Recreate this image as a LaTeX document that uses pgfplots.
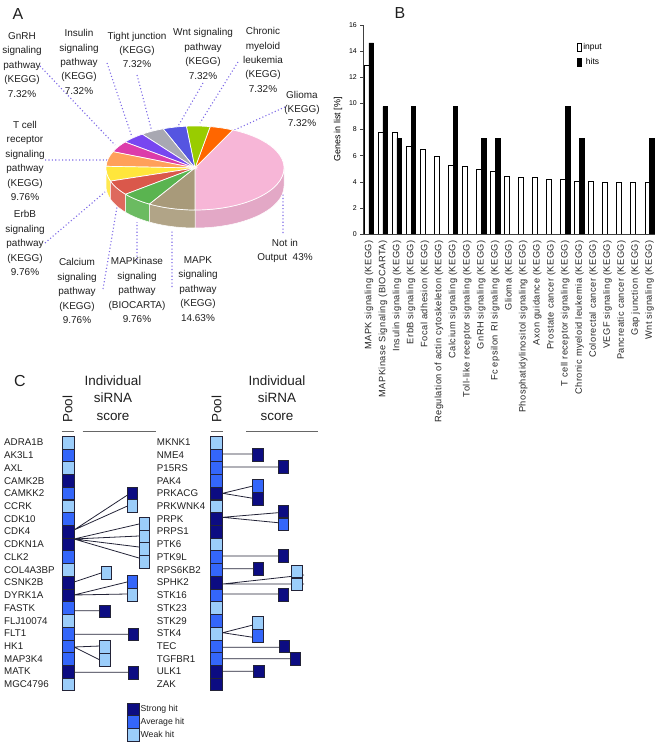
\documentclass[border=0pt]{standalone}
\usepackage{fontspec}
\setmainfont{Liberation Sans}
\newfontfamily\tickfont[LetterSpace=5]{Liberation Sans}
\usepackage{pgfplots}
\pgfplotsset{compat=1.18}

\definecolor{hitS}{RGB}{12,12,130}
\definecolor{hitA}{RGB}{52,102,250}
\definecolor{hitW}{RGB}{155,205,250}
\definecolor{boxline}{RGB}{35,35,55}
\definecolor{lead}{RGB}{125,105,230}
\definecolor{pPink}{RGB}{247,182,215}
\definecolor{pOrange}{RGB}{255,102,0}
\definecolor{pLime}{RGB}{153,204,0}
\definecolor{pBlue}{RGB}{85,85,225}
\definecolor{pGray}{RGB}{168,168,178}
\definecolor{pViolet}{RGB}{120,70,240}
\definecolor{pMagenta}{RGB}{220,60,170}
\definecolor{pPeach}{RGB}{255,160,90}
\definecolor{pYellow}{RGB}{255,230,60}
\definecolor{pRed}{RGB}{218,88,75}
\definecolor{pGreen}{RGB}{90,180,80}
\definecolor{pTan}{RGB}{168,154,122}

\pgfdeclareplotmark{poolbox}{\pgfpathrectangle{\pgfpoint{-6bp}{-6.36bp}}{\pgfpoint{12bp}{12.73bp}}\pgfusepathqfillstroke}
\pgfdeclareplotmark{hitbox}{\pgfpathrectangle{\pgfpoint{-5.2bp}{-6.36bp}}{\pgfpoint{10.4bp}{12.73bp}}\pgfusepathqfillstroke}
\pgfplotsset{boxlegend/.style={legend image code/.code={\draw[##1] (0bp,-3.8bp) rectangle (4bp,3.8bp);}}}

\begin{document}
\begin{tikzpicture}
% page frame in pixel units (y downwards)
\begin{axis}[name=main, x=1bp, y=1bp, y dir=reverse, xmin=0, xmax=660, ymin=0, ymax=744,
  hide axis, clip=false, at={(0,0)}, anchor=south west]
  \coordinate (TL) at (0,0);
  \coordinate (BR) at (660,744);
  \coordinate (Bsw) at (363.3,234);
  \coordinate (pc) at (195,168);
  % leader lines of the pie
  \addplot[lead, mark=none, line width=1.1bp, dash pattern=on 1.1bp off 2.3bp, unbounded coords=jump] coordinates {
    (40,66) (115,145) (0,nan)
    (107,63) (132,137) (0,nan)
    (137,75) (152,132) (0,nan)
    (203,83) (177,128) (0,nan)
    (238,62) (200,123) (0,nan)
    (285,107) (230,132) (0,nan)
    (45,160) (107,160) (0,nan)
    (45,243) (105,192) (0,nan)
    (103,289) (117,207) (0,nan)
    (137,260) (137,222) (0,nan)
    (172,287) (172,230) (0,nan)
    (283,233) (283,193)
  };
  % links pool -> individual siRNA
  \addplot[boxline, mark=none, line width=0.8bp, unbounded coords=jump] coordinates {
    (74,530) (127.5,495) (0,nan)
    (74,530) (127.5,506) (0,nan)
    (74,539) (139,524) (0,nan)
    (74,539) (139,536) (0,nan)
    (74,539) (139,547) (0,nan)
    (74,539) (139,558) (0,nan)
    (74,582) (101,573) (0,nan)
    (74,595) (127,582) (0,nan)
    (74,595) (127,594) (0,nan)
    (74,610.7) (100,610.7) (0,nan)
    (74,634.3) (128,634.3) (0,nan)
    (74,647) (100,646) (0,nan)
    (74,647) (100,660) (0,nan)
    (74,672.3) (128,672.3) (0,nan)
    (222.7,454) (253,454) (0,nan)
    (222.7,467) (278,467) (0,nan)
    (222.7,493.3) (253,486) (0,nan)
    (222.7,493.3) (253,498.3) (0,nan)
    (222.7,517.3) (278,512.7) (0,nan)
    (222.7,517.3) (278,522.7) (0,nan)
    (222.7,556) (278,556) (0,nan)
    (222.7,568.7) (253,568.7) (0,nan)
    (222.7,584) (304,575) (0,nan)
    (222.7,584) (304,584) (0,nan)
    (222.7,594) (278,594) (0,nan)
    (222.7,632.7) (253,625) (0,nan)
    (222.7,632.7) (253,637.3) (0,nan)
    (222.7,647.3) (279,647.3) (0,nan)
    (222.7,658.7) (290,658.7) (0,nan)
    (222.7,671.3) (254,671.3)
  };
  % pool scores
  \addplot[only marks, mark=poolbox, mark options={fill=hitS, draw=boxline, line width=0.6bp}] coordinates {
    (67.8,480.7) (67.8,531.6) (67.8,544.3) (67.8,582.5) (67.8,595.3) (67.8,671.6)
    (216.7,493.4) (216.7,518.9) (216.7,531.6) (216.7,582.5) (216.7,671.6) (216.7,684.4)
    (133,709.3)};
  \addplot[only marks, mark=poolbox, mark options={fill=hitA, draw=boxline, line width=0.6bp}] coordinates {
    (67.8,455.2) (67.8,493.4) (67.8,518.9) (67.8,557.1) (67.8,608.0) (67.8,633.5) (67.8,646.2) (67.8,658.9)
    (216.7,455.2) (216.7,468.0) (216.7,480.7) (216.7,557.1) (216.7,569.8) (216.7,595.3) (216.7,620.7) (216.7,646.2) (216.7,658.9)
    (133,722.0)};
  \addplot[only marks, mark=poolbox, mark options={fill=hitW, draw=boxline, line width=0.6bp}] coordinates {
    (67.8,442.5) (67.8,468.0) (67.8,506.2) (67.8,569.8) (67.8,620.7) (67.8,684.4)
    (216.7,442.5) (216.7,506.2) (216.7,544.3) (216.7,608.0) (216.7,633.5)
    (133,734.7)};
  % individual siRNA scores
  \addplot[only marks, mark=hitbox, mark options={fill=hitS, draw=boxline, line width=0.6bp}] coordinates {
    (132.5,493.5) (104.7,611.3) (133.3,634.2) (133.3,672.7)
    (257.7,454.5) (283,467) (257.7,498.7) (283,511.3) (283,555.5) (258.3,568.5)
    (283,594.5) (284.2,646.3) (295.3,658.7) (258.7,671.3)};
  \addplot[only marks, mark=hitbox, mark options={fill=hitA, draw=boxline, line width=0.6bp}] coordinates {
    (132,582) (257.7,485.7) (283,524.2) (257.7,635.8)};
  \addplot[only marks, mark=hitbox, mark options={fill=hitW, draw=boxline, line width=0.6bp}] coordinates {
    (132.5,506) (144,523.5) (144,536.3) (144,549) (144,561.7) (106,573) (132,594.5)
    (104.7,646.7) (104.7,659.6) (296.7,571.3) (296.7,584.2) (257.7,623)};
\end{axis}

% panel B: bar chart
\begin{axis}[at={(Bsw)}, anchor=south west, x=14.03bp, y=13.06bp,
  xmin=0.6, xmax=21.4, ymin=0, ymax=16, enlargelimits=false,
  axis lines=left, axis line style={-, line width=0.6bp, black!75},
  ytick={0,2,...,16}, xtick={1,...,21},
  xticklabels={MAPK signaling (KEGG), MAPKinase Signaling (BIOCARTA), Insulin signaling (KEGG),
    ErbB signaling (KEGG), Focal adhesion (KEGG), Regulation of actin cytoskeleton (KEGG),
    Calcium signaling (KEGG), Toll-like receptor signaling (KEGG), GnRH signaling (KEGG),
    Fc epsilon RI signaling (KEGG), Glioma (KEGG), Phosphatidylinositol signaling (KEGG),
    Axon guidance (KEGG), Prostate cancer (KEGG), T cell receptor signaling (KEGG),
    Chronic myeloid leukemia (KEGG), Colorectal cancer (KEGG), VEGF signaling (KEGG),
    Pancreatic cancer (KEGG), Gap junction (KEGG), Wnt signaling (KEGG)},
  xticklabel style={rotate=90, anchor=east, font=\tickfont\fontsize{9.3}{9.3}\selectfont, text=black!85},
  yticklabel style={font=\fontsize{7}{7}\selectfont},
  /pgf/number format/assume math mode=true,
  x tick style={draw=none}, y tick style={black!75, line width=0.5bp},
  tick align=outside, major tick length=3bp,
  ylabel={Genes in list [\%]}, ylabel style={font=\fontsize{9}{9}\selectfont},
  legend style={draw=none, fill=none, at={(axis cs:15.8,14.75)}, anchor=north west,
    font=\fontsize{8.5}{9}\selectfont, inner sep=0pt, row sep=3.5bp,
    /tikz/every even column/.append style={column sep=1bp}},
]
\addplot[ybar, bar width=4.7bp, bar shift=-2.35bp, fill=white, draw=black, line width=0.6bp,
  boxlegend] coordinates {
  (1,12.95) (2,7.75) (3,7.75) (4,6.75) (5,6.45) (6,5.95) (7,5.25) (8,5.15) (9,4.92) (10,4.83)
  (11,4.45) (12,4.35) (13,4.35) (14,4.15) (15,4.15) (16,4.05) (17,4.05) (18,3.95) (19,3.95)
  (20,3.95) (21,3.95)};
\addplot[ybar, bar width=4.7bp, bar shift=2.35bp, fill=black, draw=black, line width=0.6bp,
  boxlegend] coordinates {
  (1,14.63) (2,9.76) (3,7.32) (4,9.76) (7,9.76) (9,7.32) (10,7.32) (15,9.76) (16,7.32) (21,7.32)};
\legend{input, hits}
\end{axis}

% panel A: 3D pie (slice angles from the shares; 43 % of the circle is "Not in Output")
\begin{scope}[shift={(pc)}]
\foreach \v/\w/\c [remember=\e as \s (initially -90), evaluate=\v as \e using {\s+\v*\w}] in
  {43/3.6/pPink, 7.32/2.1027/pOrange, 7.32/2.1027/pLime, 7.32/2.1027/pBlue, 7.32/2.1027/pGray,
   7.32/2.1027/pViolet, 7.32/2.1027/pMagenta, 9.76/2.1027/pPeach, 9.76/2.1027/pYellow,
   9.76/2.1027/pRed, 9.76/2.1027/pGreen, 14.63/2.1027/pTan}{
  \ifdim\e pt>180pt
    \pgfmathsetmacro\ss{max(\s,180)}
    \fill[\c!90!white, draw=white, line width=0.5bp] (\ss:89bp and 42bp)
      arc[start angle=\ss, end angle=\e, x radius=89bp, y radius=42bp] -- ++(0,-18bp)
      arc[start angle=\e, end angle=\ss, x radius=89bp, y radius=42bp] -- cycle;
  \fi
  \ifdim\s pt<0pt
    \pgfmathsetmacro\ee{min(\e,0)}
    \fill[\c!92!black, draw=white, line width=0.5bp] (\s:89bp and 42bp)
      arc[start angle=\s, end angle=\ee, x radius=89bp, y radius=42bp] -- ++(0,-18bp)
      arc[start angle=\ee, end angle=\s, x radius=89bp, y radius=42bp] -- cycle;
  \fi
  \fill[\c, draw=white, line width=0.7bp] (0,0) -- (\s:89bp and 42bp)
    arc[start angle=\s, end angle=\e, x radius=89bp, y radius=42bp] -- cycle;
}
\end{scope}

% texts, in pixel units from the top left corner
\begin{scope}[shift={(TL)}, x=1bp, y=-1bp, text=black!88]
\node[font=\fontsize{16}{16}\selectfont] at (18,14) {A};
\node[font=\fontsize{16}{16}\selectfont] at (400,13) {B};
\node[font=\fontsize{16}{16}\selectfont] at (20,381) {C};
\begin{scope}[every node/.style={align=center, inner sep=0pt, font=\fontsize{10}{14.5}\selectfont}]
\node at (22,65) {GnRH\\signaling\\pathway\\(KEGG)\\7.32\%};
\node at (79,62) {Insulin\\signaling\\pathway\\(KEGG)\\7.32\%};
\node at (137,50) {Tight junction\\(KEGG)\\7.32\%};
\node at (203,54) {Wnt signaling\\pathway\\(KEGG)\\7.32\%};
\node at (263,60) {Chronic\\myeloid\\leukemia\\(KEGG)\\7.32\%};
\node at (302,109) {Glioma\\(KEGG)\\7.32\%};
\node at (25,161) {T cell\\receptor\\signaling\\pathway\\(KEGG)\\9.76\%};
\node at (25,243) {ErbB\\signaling\\pathway\\(KEGG)\\9.76\%};
\node at (77,291) {Calcium\\signaling\\pathway\\(KEGG)\\9.76\%};
\node at (137,290) {MAPKinase\\signaling\\pathway\\(BIOCARTA)\\9.76\%};
\node at (198,289) {MAPK\\signaling\\pathway\\(KEGG)\\14.63\%};
\node at (285,251) {Not in\\Output\ \ 43\%};
\end{scope}
% panel C headers
\begin{scope}[every node/.style={align=center, inner sep=0pt, font=\fontsize{13.5}{17.5}\selectfont}]
\node at (113,398) {Individual\\siRNA\\score};
\node at (277,398) {Individual\\siRNA\\score};
\node[rotate=90] at (67.5,409) {Pool};
\node[rotate=90] at (216.5,409) {Pool};
\end{scope}
\draw[black!60, line width=1.4bp] (61.5,431.7) -- (74,431.7) (82.7,431.7) -- (156,431.7)
  (210.5,431.7) -- (222.7,431.7) (246,431.7) -- (318.3,431.7);
\begin{scope}[every node/.style={anchor=west, inner sep=0pt, font=\fontsize{9.8}{10}\selectfont}]
\foreach \g [count=\i] in {ADRA1B, AK3L1, AXL, CAMK2B, CAMKK2, CCRK, CDK10, CDK4, CDKN1A, CLK2,
  COL4A3BP, CSNK2B, DYRK1A, FASTK, FLJ10074, FLT1, HK1, MAP3K4, MATK, MGC4796}
  \node at (4,{442.5+(\i-1)*12.73}) {\g};
\foreach \g [count=\i] in {MKNK1, NME4, P15RS, PAK4, PRKACG, PRKWNK4, PRPK, PRPS1, PTK6, PTK9L,
  RPS6KB2, SPHK2, STK16, STK23, STK29, STK4, TEC, TGFBR1, ULK1, ZAK}
  \node at (156.7,{442.5+(\i-1)*12.73}) {\g};
\end{scope}
\begin{scope}[every node/.style={anchor=west, inner sep=0pt, font=\fontsize{8.7}{9}\selectfont}]
\node at (140.5,709.3) {Strong hit};
\node at (140.5,722.0) {Average hit};
\node at (140.5,734.7) {Weak hit};
\end{scope}
\end{scope}

\pgfresetboundingbox
\path[use as bounding box] (TL) rectangle (BR);
\end{tikzpicture}
\end{document}
